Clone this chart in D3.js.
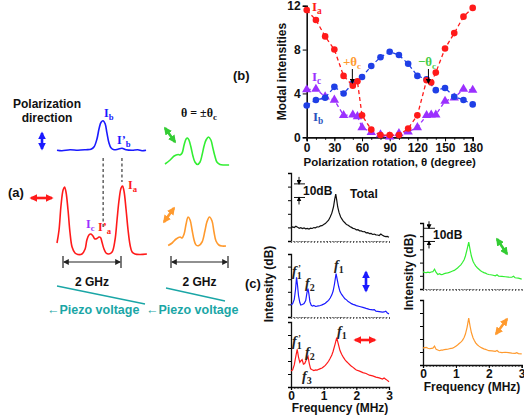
<!DOCTYPE html>
<html>
<head>
<meta charset="utf-8">
<script src="https://cdn.jsdelivr.net/npm/d3@7"></script>
<style>
  body { margin: 0; background: #fff; }
  text { font-family: "Liberation Sans", Arial, sans-serif; font-weight: bold; }
  .serif { font-family: "Liberation Serif", "Times New Roman", serif; }
</style>
</head>
<body>
<div id="chart"></div>
<script>
// ---- panel (b) data: modal intensities vs polarization rotation
var thetaA = [0,10,20,30,40,50,55,60,70,80,90,100,110,120,130,135,140,150,160,170,180];
var Ia = [11.6,10.7,9.2,8.0,5.6,4.7,5.1,2.0,0.7,0.2,0.2,0.2,0.8,2.0,5.2,5.0,5.9,8.1,9.5,11.0,11.8];
var Ic = [4.35,4.4,3.7,3.4,2.0,2.05,1.9,0.9,0.45,0.25,0.05,0.35,0.5,0.9,2.0,2.05,2.05,3.3,3.6,4.4,4.3];
var thetaB = [0,10,20,30,40,50,60,70,80,90,100,110,120,130,140,150,160,170,180];
var Ib = [2.9,3.4,3.6,4.6,4.0,4.9,5.5,6.5,7.3,7.8,7.5,6.7,5.6,5.3,4.3,4.5,3.7,3.4,3.0];
var thetaTicks = [0,30,60,90,120,150,180];
var intensTicks = [0,4,8,12];

// ---- panel (a) data: Fabry-Perot scans, [GHz, intensity]
var scanBlue = [[0,0.05],[0.17,0],[0.45,0.1],[0.72,0.05],[1.0,0.1],[1.17,0.15],[1.28,0.4],[1.38,1.2],[1.45,2.2],[1.52,2.85],[1.59,3.0],[1.66,2.7],[1.72,1.8],[1.79,0.8],[1.86,0.3],[1.97,0.1],[2.1,0.15],[2.24,0.25],[2.38,0.1],[2.59,0.05],[2.79,0.1],[2.93,0],[3.07,0.05]];
var scanRed = [[0,1.2],[0.07,2.5],[0.14,5.0],[0.21,6.5],[0.26,6.8],[0.31,6.3],[0.38,4.5],[0.45,2.2],[0.52,0.8],[0.62,0.2],[0.72,0.05],[0.86,0.1],[0.97,0.6],[1.03,1.5],[1.1,2.0],[1.17,2.1],[1.24,1.9],[1.31,1.6],[1.38,1.65],[1.45,1.8],[1.5,1.75],[1.55,1.3],[1.62,0.6],[1.69,0.2],[1.79,0.1],[1.9,0.3],[2.0,1.5],[2.07,3.5],[2.14,5.5],[2.21,6.7],[2.26,6.9],[2.31,6.4],[2.38,4.6],[2.45,2.5],[2.52,1.0],[2.59,0.3],[2.69,0.1],[2.86,0.05],[3.1,0.1]];
var scanGreen = [[0,0.1],[0.18,0.5],[0.32,0.9],[0.46,1.05],[0.53,1.0],[0.6,1.2],[0.67,2.0],[0.74,2.6],[0.79,2.7],[0.84,2.5],[0.91,1.8],[0.98,0.9],[1.05,0.3],[1.14,0.05],[1.23,0.3],[1.3,1.0],[1.37,1.9],[1.44,2.5],[1.53,2.8],[1.61,2.5],[1.68,1.7],[1.75,0.9],[1.82,0.3],[1.93,0.05],[2.07,0],[2.25,0]];
var scanOrange = [[0.11,0.05],[0.25,0.3],[0.39,0.7],[0.53,0.9],[0.6,0.8],[0.67,1.2],[0.74,2.2],[0.81,2.9],[0.88,2.6],[0.95,1.6],[1.02,0.6],[1.09,0.1],[1.19,0.05],[1.3,0.4],[1.4,1.5],[1.47,2.4],[1.56,2.9],[1.65,2.5],[1.72,1.4],[1.79,0.5],[1.89,0.1],[2.0,0],[2.14,0]];

// ---- panel (c) data: RF spectra, [MHz, dB]
var rfTotal = [[0,10],[0.05,10.4],[0.1,9.9],[0.15,10.9],[0.2,10.2],[0.25,9.3],[0.3,9.8],[0.35,9.1],[0.4,9.6],[0.45,9.0],[0.5,9.2],[0.55,8.8],[0.6,9.4],[0.65,9.2],[0.7,9.9],[0.75,9.7],[0.8,10.4],[0.85,10.3],[0.9,11.1],[0.95,11.3],[1.0,12.1],[1.05,12.8],[1.1,14.1],[1.15,15.3],[1.2,17.6],[1.25,20.5],[1.3,25],[1.34,31],[1.37,34.5],[1.4,30],[1.43,25],[1.47,21],[1.52,17.6],[1.56,16.1],[1.6,14.6],[1.65,13.4],[1.7,12.1],[1.75,11.6],[1.8,10.6],[1.85,10.0],[1.9,9.3],[1.95,9.0],[2.0,8.2],[2.05,8.3],[2.1,7.5],[2.15,7.4],[2.2,6.8],[2.25,6.9],[2.3,6.0],[2.35,6.2],[2.4,5.5],[2.45,5.6],[2.5,4.8],[2.55,5.1],[2.6,4.5],[2.65,4.4],[2.7,4.0],[2.75,5.1],[2.8,4.2],[2.85,3.6],[2.9,3.2],[2.95,3.4],[3.0,2.8]];
var rfBlue = [[0,9.5],[0.05,10.6],[0.1,14],[0.14,22],[0.17,31.5],[0.2,25],[0.23,17],[0.27,11.5],[0.3,9.5],[0.35,9.9],[0.4,10.6],[0.45,13],[0.49,19.5],[0.52,22.5],[0.55,18],[0.58,12],[0.62,9.3],[0.66,8.6],[0.7,9.1],[0.75,8.4],[0.8,8.6],[0.85,8.9],[0.9,9.1],[0.95,9.6],[1.0,10.2],[1.05,10.9],[1.1,12.1],[1.15,13.2],[1.2,15.1],[1.25,17.6],[1.29,20.6],[1.33,26],[1.38,34.5],[1.42,29],[1.46,24],[1.5,20.2],[1.55,17.9],[1.6,16.1],[1.65,14.4],[1.7,13.6],[1.75,12.2],[1.8,11.5],[1.85,10.6],[1.9,10.0],[1.95,9.6],[2.0,9.0],[2.1,8.3],[2.2,7.6],[2.3,6.8],[2.4,6.1],[2.5,5.6],[2.55,5.9],[2.6,4.6],[2.7,4.2],[2.8,3.8],[2.85,4.0],[2.9,4.6],[2.95,3.2],[3.0,2.5]];
var rfRed = [[0,12.3],[0.05,13.1],[0.1,17],[0.15,24],[0.19,29],[0.23,23],[0.27,19],[0.3,20],[0.34,21],[0.38,17.5],[0.42,18],[0.47,21],[0.52,23.5],[0.56,18],[0.6,14],[0.65,13.2],[0.7,12.6],[0.75,13.1],[0.8,13.0],[0.85,13.6],[0.9,14.1],[0.95,14.6],[1.0,15.6],[1.05,16.6],[1.1,18.1],[1.15,19.8],[1.2,22.1],[1.25,24.6],[1.29,27.5],[1.35,33],[1.4,38],[1.44,34],[1.5,28],[1.55,25.2],[1.6,23],[1.65,21.1],[1.7,19.6],[1.75,18.4],[1.8,17.1],[1.85,16.0],[1.9,15.1],[1.95,14.0],[2.0,13.1],[2.1,12.2],[2.2,11.1],[2.3,10.4],[2.4,9.1],[2.5,8.6],[2.6,7.6],[2.7,7.0],[2.8,6.1],[2.85,6.9],[2.9,6.0],[2.95,5.1],[3.0,4.0]];
var rfGreen = [[0,13],[0.05,12.6],[0.1,12.4],[0.15,12.8],[0.2,12.4],[0.25,12.9],[0.3,13.1],[0.35,15],[0.4,12.5],[0.45,11],[0.5,11.6],[0.55,10.9],[0.6,11.1],[0.65,11.7],[0.7,12.0],[0.75,12.2],[0.8,12.6],[0.85,13.1],[0.9,13.6],[0.95,14.1],[1.0,15.0],[1.05,15.9],[1.1,17.1],[1.15,18.3],[1.2,20.1],[1.25,22.2],[1.29,25],[1.34,30],[1.39,35.5],[1.43,30],[1.47,25],[1.52,21],[1.56,19.1],[1.6,17.5],[1.65,16.1],[1.7,15.0],[1.75,13.9],[1.8,13.1],[1.85,12.4],[1.9,12.0],[1.95,11.4],[2.0,11.0],[2.1,10.6],[2.2,10.0],[2.25,10.8],[2.3,9.7],[2.4,9.5],[2.5,9.3],[2.6,9.0],[2.7,8.9],[2.75,9.6],[2.8,8.5],[2.9,8.2],[3.0,7.5]];
var rfOrange = [[0,13],[0.05,13.4],[0.1,13.5],[0.15,12.9],[0.2,12.5],[0.25,12.8],[0.3,13.0],[0.35,14.5],[0.4,12],[0.45,11.5],[0.5,11.0],[0.55,11.4],[0.6,11.5],[0.65,11.9],[0.7,12.0],[0.75,12.1],[0.8,12.5],[0.85,12.8],[0.9,13.0],[0.95,13.6],[1.0,14.5],[1.05,15.4],[1.1,16.5],[1.15,17.6],[1.2,19],[1.25,21.1],[1.29,23.8],[1.34,29],[1.39,36],[1.43,30],[1.47,25],[1.52,21],[1.56,18.9],[1.6,17],[1.65,15.6],[1.7,14.5],[1.75,13.6],[1.8,13.0],[1.85,12.4],[1.9,12.0],[1.95,11.5],[2.0,11.0],[2.1,10.8],[2.2,10.5],[2.25,11.1],[2.3,10.0],[2.4,9.5],[2.5,9.8],[2.6,9.5],[2.7,9.2],[2.8,9.0],[2.85,9.5],[2.9,8.8],[3.0,8.5]];
var freqTicks = [0,1,2,3];
var dbTicks = [0,10,20,30,40,50];

var RED = "#ff1a1a", BLUE = "#1a1aff", GREEN = "#33ee33", ORANGE = "#ff9a2e",
    PURPLE = "#9b30ff", TEAL = "#1aa6a6", DOTBLUE = "#1f3fe6";

var width = 524, height = 419;
var svg = d3.select("#chart").append("svg")
  .attr("width", width).attr("height", height)
  .style("background", "#fff");

// arrow heads (filled triangles), one per colour
var defs = svg.append("defs");
function arrowHead(id, color, size) {
  defs.append("marker")
    .attr("id", id).attr("viewBox", "0 0 10 10")
    .attr("refX", 8).attr("refY", 5)
    .attr("markerUnits", "userSpaceOnUse")
    .attr("markerWidth", size).attr("markerHeight", size)
    .attr("orient", "auto-start-reverse")
    .append("path").attr("d", "M0,0L10,5L0,10Z").attr("fill", color);
}
arrowHead("hRed", RED, 8); arrowHead("hBlue", BLUE, 8);
arrowHead("hGreen", "#33cc33", 8); arrowHead("hOrange", ORANGE, 8);
arrowHead("hDark", "#222", 6); arrowHead("hBlack", "#000", 5);

function dblArrow(x1, y1, x2, y2, color, head, w) {
  svg.append("line").attr("x1", x1).attr("y1", y1).attr("x2", x2).attr("y2", y2)
    .attr("stroke", color).attr("stroke-width", w || 2.6)
    .attr("marker-start", "url(#" + head + ")").attr("marker-end", "url(#" + head + ")");
}
function label(x, y, txt, size, color, anchor) {
  return svg.append("text").attr("x", x).attr("y", y).text(txt)
    .attr("font-size", size).attr("fill", color || "#000")
    .attr("text-anchor", anchor || "start");
}
// serif "I" with optional prime and subscript
function modeLabel(x, y, sub, color, prime, size) {
  var t = svg.append("text").attr("class", "serif").attr("x", x).attr("y", y)
    .attr("font-size", size || 13).attr("fill", color);
  t.append("tspan").text(prime ? "I\u2019" : "I");
  t.append("tspan").attr("dy", 3).attr("font-size", (size || 13) * 0.72).text(sub);
  return t;
}
// italic f with subscript and optional prime above the subscript
function fLabel(x, y, sub, prime) {
  var t = svg.append("text").attr("class", "serif").attr("x", x).attr("y", y)
    .attr("font-size", 14).attr("fill", "#222").attr("font-style", "italic");
  t.append("tspan").text("f");
  t.append("tspan").attr("dy", 3).attr("font-size", 10).attr("font-style", "normal").text(sub);
  if (prime) {
    svg.append("text").attr("class", "serif").attr("x", x + 6).attr("y", y - 5)
      .attr("font-size", 9).attr("fill", "#222").text("\u2019");
  }
}
function boldTicks(sel) {
  sel.selectAll("text").attr("font-size", 12).attr("font-weight", "bold").attr("fill", "#111")
    .attr("font-family", "Liberation Sans, Arial, sans-serif");
}

// =================== panel (a) ===================
var xScanL = d3.scaleLinear().domain([0, 2]).range([57, 115]);   // 2 GHz = 58 px
var xScanR = d3.scaleLinear().domain([0, 2]).range([165, 222]);
function scanY(base) { return d3.scaleLinear().domain([0, 1]).range([base, base - 10]); }

function drawScan(data, xs, ys, color) {
  svg.append("path").datum(data)
    .attr("fill", "none").attr("stroke", color).attr("stroke-width", 1.6)
    .attr("d", d3.line().x(d => xs(d[0])).y(d => ys(d[1])).curve(d3.curveCatmullRom.alpha(0.5)));
}
drawScan(scanBlue, xScanL, scanY(150.7), BLUE);
drawScan(scanRed, xScanL, scanY(255), RED);
drawScan(scanGreen, xScanR, scanY(165), GREEN);
drawScan(scanOrange, xScanR, scanY(246), ORANGE);

// dashed guides from blue peaks down to red trace
svg.append("line").attr("x1", xScanL(1.59)).attr("x2", xScanL(1.59)).attr("y1", 158).attr("y2", 228)
  .attr("stroke", "#111").attr("stroke-width", 1).attr("stroke-dasharray", "3,2.5");
svg.append("line").attr("x1", xScanL(2.24)).attr("x2", xScanL(2.24)).attr("y1", 158).attr("y2", 182)
  .attr("stroke", "#111").attr("stroke-width", 1).attr("stroke-dasharray", "3,2.5");

label(47, 108, "Polarization", 12, "#111", "middle");
label(47, 122, "direction", 12, "#111", "middle");
label(8, 197, "(a)", 13, "#111");
dblArrow(42, 133, 42, 149, BLUE, "hBlue", 2.6);
dblArrow(31, 198, 52, 198, RED, "hRed", 2.6);
dblArrow(165, 128, 175, 142, "#33cc33", "hGreen", 2.6);
dblArrow(164, 222, 174, 208, ORANGE, "hOrange", 2.6);

var th = svg.append("text").attr("class", "serif").attr("x", 199).attr("y", 117)
  .attr("font-size", 12).attr("text-anchor", "middle").attr("fill", "#111");
th.append("tspan").text("\u03b8 = \u00b1\u03b8");
th.append("tspan").attr("dy", 3).attr("font-size", 9).text("c");

modeLabel(104, 117, "b", BLUE, false, 12);
modeLabel(117, 144, "b", BLUE, true, 12);
modeLabel(128, 189, "a", RED, false, 12);
modeLabel(86, 228, "c", PURPLE, false, 12);
modeLabel(98, 231, "a", RED, true, 12);

// 2 GHz scale bars
function ghzBar(xs) {
  var x0 = xs(0) + 6, x1 = xs(2) + 6;
  svg.append("line").attr("x1", x0 + 1).attr("x2", x1 - 1).attr("y1", 262).attr("y2", 262)
    .attr("stroke", "#222").attr("stroke-width", 1.2)
    .attr("marker-start", "url(#hDark)").attr("marker-end", "url(#hDark)");
  [x0, x1].forEach(x => svg.append("line").attr("x1", x).attr("x2", x).attr("y1", 256).attr("y2", 268)
    .attr("stroke", "#222").attr("stroke-width", 1.2));
  label((x0 + x1) / 2, 286, "2 GHz", 12, "#111", "middle");
}
ghzBar(xScanL);
ghzBar(xScanR);

// piezo voltage ramps
svg.append("line").attr("x1", 57).attr("y1", 286).attr("x2", 145).attr("y2", 304)
  .attr("stroke", TEAL).attr("stroke-width", 1.3);
svg.append("line").attr("x1", 166).attr("y1", 288).attr("x2", 225).attr("y2", 301)
  .attr("stroke", TEAL).attr("stroke-width", 1.3);
label(47, 314, "\u2190Piezo voltage", 12.5, TEAL);
label(146, 314, "\u2190Piezo voltage", 12.5, TEAL);

// =================== panel (b) ===================
var xB = d3.scaleLinear().domain([0, 180]).range([306.7, 472.7]);
var yB = d3.scaleLinear().domain([0, 12]).range([137.3, 5.7]);

var gx = svg.append("g").attr("transform", "translate(0," + yB(0) + ")");
gx.call(d3.axisBottom(xB).tickValues(d3.range(0, 181, 10)).tickSize(2.5).tickFormat(""));
gx.append("g").call(d3.axisBottom(xB).tickValues(thetaTicks).tickSize(4).tickPadding(2).tickFormat(d3.format("d")));
boldTicks(gx);
var gy = svg.append("g").attr("transform", "translate(" + xB(0) + ",0)");
gy.call(d3.axisLeft(yB).tickValues(intensTicks).tickSize(4).tickPadding(2).tickFormat(d3.format("d")));
boldTicks(gy);
svg.selectAll(".domain").attr("stroke-width", 1.6).attr("stroke", "#111");

label(xB(90), 166, "Polarization rotation, \u03b8 (degree)", 11.5, "#111", "middle");
svg.append("text").attr("transform", "translate(286," + yB(6) + ") rotate(-90)")
  .attr("text-anchor", "middle").attr("font-size", 12).attr("fill", "#111").text("Modal intensities");
label(233, 80, "(b)", 13, "#111");

function drawSeries(xs, ys, color, marker) {
  svg.append("path").datum(d3.zip(xs, ys))
    .attr("fill", "none").attr("stroke", color).attr("stroke-width", 1.3).attr("stroke-dasharray", "4,3")
    .attr("d", d3.line().x(d => xB(d[0])).y(d => yB(d[1])));
  var g = svg.append("g").attr("fill", color);
  if (marker === "tri") {
    g.selectAll("path").data(d3.zip(xs, ys)).join("path")
      .attr("transform", d => "translate(" + xB(d[0]) + "," + yB(d[1]) + ")")
      .attr("d", d3.symbol(d3.symbolTriangle, 38));
  } else {
    g.selectAll("circle").data(d3.zip(xs, ys)).join("circle")
      .attr("cx", d => xB(d[0])).attr("cy", d => yB(d[1])).attr("r", 3.3);
  }
}
drawSeries(thetaA, Ic, PURPLE, "tri");
drawSeries(thetaB, Ib, DOTBLUE, "dot");
drawSeries(thetaA, Ia, RED, "dot");

modeLabel(312, 11, "a", RED);
modeLabel(312, 81, "c", PURPLE);
modeLabel(313, 121, "b", "#2a52be");

var tp = svg.append("text").attr("class", "serif").attr("x", 352).attr("y", 66)
  .attr("font-size", 13).attr("text-anchor", "middle").attr("fill", ORANGE);
tp.append("tspan").text("+\u03b8"); tp.append("tspan").attr("dy", 3).attr("font-size", 9).text("c");
var tm = svg.append("text").attr("class", "serif").attr("x", 427).attr("y", 66)
  .attr("font-size", 13).attr("text-anchor", "middle").attr("fill", "#44cc44");
tm.append("tspan").text("\u2212\u03b8"); tm.append("tspan").attr("dy", 3).attr("font-size", 9).text("c");
[[xB(49.5), 69, 83], [xB(132), 69, 83]].forEach(a =>
  svg.append("line").attr("x1", a[0]).attr("x2", a[0]).attr("y1", a[1]).attr("y2", a[2])
    .attr("stroke", "#000").attr("stroke-width", 1).attr("marker-end", "url(#hBlack)"));

// =================== panel (c) ===================
var xCL = d3.scaleLinear().domain([0, 3]).range([291, 389]);
var xCR = d3.scaleLinear().domain([0, 3]).range([423, 521.7]);

function rfPanel(xs, top, bottom, data, color, withLabels) {
  var ys = d3.scaleLinear().domain([0, 50]).range([bottom, top]);
  var ax = svg.append("g").attr("transform", "translate(" + xs(0) + ",0)")
    .call(d3.axisLeft(ys).tickValues(dbTicks).tickSize(3).tickFormat(""));
  ax.select(".domain").attr("stroke-width", 1.3).attr("stroke", "#111");
  var bx = svg.append("g").attr("transform", "translate(0," + bottom + ")")
    .call(d3.axisBottom(xs).tickValues(d3.range(0, 3.01, 0.1)).tickSize(2).tickFormat(""));
  bx.select(".domain").attr("stroke", "#555").attr("stroke-width", 0.8).attr("stroke-dasharray", "1.5,1.5");
  bx.selectAll("line").attr("stroke", "#555");
  if (withLabels) {
    var lx = svg.append("g").attr("transform", "translate(0," + bottom + ")")
      .call(d3.axisBottom(xs).tickValues(freqTicks).tickSize(3).tickPadding(1).tickFormat(d3.format("d")));
    lx.select(".domain").attr("stroke", "#111").attr("stroke-width", 1.3);
    boldTicks(lx);
  }
  svg.append("path").datum(data)
    .attr("fill", "none").attr("stroke", color).attr("stroke-width", 1.2)
    .attr("d", d3.line().x(d => xs(d[0])).y(d => ys(d[1])));
  return ys;
}
var yTot = rfPanel(xCL, 173, 241, rfTotal, "#111", false);
var yBl = rfPanel(xCL, 254, 317, rfBlue, BLUE, false);
var yRd = rfPanel(xCL, 322, 387, rfRed, RED, true);
var yGr = rfPanel(xCR, 223, 289, rfGreen, GREEN, false);
var yOr = rfPanel(xCR, 300, 365, rfOrange, ORANGE, true);

function dbBar(x, ys, hi) {
  var yTop = ys(hi), yBot = ys(hi - 10);
  [yTop, yBot].forEach(y => svg.append("line").attr("x1", x - 5).attr("x2", x + 6).attr("y1", y).attr("y2", y)
    .attr("stroke", "#111").attr("stroke-width", 1));
  svg.append("line").attr("x1", x).attr("x2", x).attr("y1", yTop - 7).attr("y2", yTop)
    .attr("stroke", "#111").attr("stroke-width", 1).attr("marker-end", "url(#hBlack)");
  svg.append("line").attr("x1", x).attr("x2", x).attr("y1", yBot + 7).attr("y2", yBot)
    .attr("stroke", "#111").attr("stroke-width", 1).attr("marker-end", "url(#hBlack)");
  label(x + 4, (yTop + yBot) / 2 + 4, "10dB", 12, "#111");
}
dbBar(299, yTot, 42);
dbBar(429, yGr, 46);

label(350, 198, "Total", 12, "#111");
fLabel(292, 276, "1", true);
fLabel(305, 288, "2", false);
fLabel(334, 270, "1", false);
fLabel(292, 346, "1", true);
fLabel(305, 357, "2", false);
fLabel(302, 381, "3", false);
fLabel(337, 336, "1", false);
dblArrow(366, 272, 366, 291, BLUE, "hBlue", 2.6);
dblArrow(355, 340, 375, 340, RED, "hRed", 2.6);
dblArrow(497, 239, 507, 254, "#33cc33", "hGreen", 2.6);
dblArrow(496, 334, 507, 319, ORANGE, "hOrange", 2.6);

label(245, 288, "(c)", 13, "#111");
svg.append("text").attr("transform", "translate(273,284) rotate(-90)")
  .attr("text-anchor", "middle").attr("font-size", 12).attr("fill", "#111").text("Intensity (dB)");
svg.append("text").attr("transform", "translate(413,272) rotate(-90)")
  .attr("text-anchor", "middle").attr("font-size", 12).attr("fill", "#111").text("Intensity (dB)");
label(340, 412, "Frequency (MHz)", 12, "#111", "middle");
label(472, 391, "Frequency (MHz)", 12, "#111", "middle");
</script>
</body>
</html>
